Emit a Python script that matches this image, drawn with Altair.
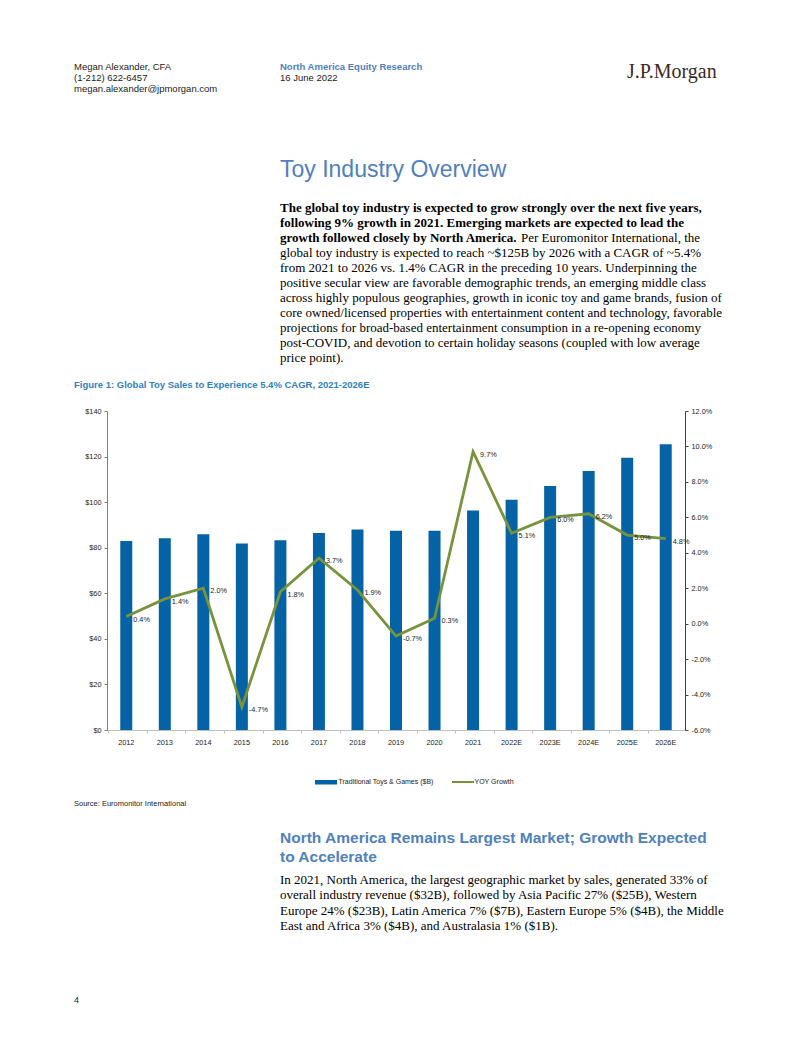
import altair as alt
import pandas as pd

# ---- data ----
years = ["2012", "2013", "2014", "2015", "2016", "2017", "2018", "2019", "2020",
         "2021", "2022E", "2023E", "2024E", "2025E", "2026E"]
sales = [83.0, 84.2, 85.9, 81.8, 83.3, 86.5, 88.0, 87.4, 87.5,
         96.3, 101.1, 107.1, 113.7, 119.5, 125.4]
growth = [0.4, 1.4, 2.0, -4.7, 1.8, 3.7, 1.9, -0.7, 0.3,
          9.7, 5.1, 6.0, 6.2, 5.0, 4.8]

df = pd.DataFrame({"year": years, "sales": sales, "growth": growth})
one = pd.DataFrame({"k": [0]})

BLUE = "#0563a5"
OLIVE = "#77933c"
HEAD = "#4f81bd"
FIGC = "#2f7fc1"
SANS = "Liberation Sans"
SERIF = "Liberation Serif"

# plot-area origin in page pixels
OX, OY = 107, 411
W, H = 578, 319

PCT = "replace(format({v}, '.1f'), '\u2212', '-') + '%'"


def txt(text, X, Y, size, color="#222", weight="normal", font=SANS,
        baseline="middle", lh=None, align="left"):
    mk = dict(text=text, font=font, fontSize=size, color=color,
              fontWeight=weight, align=align, baseline=baseline)
    if lh:
        mk["lineHeight"] = lh
    return alt.Chart(one).mark_text(**mk).encode(
        x=alt.value(X - OX), y=alt.value(Y - OY))


xenc = alt.X("year:N", sort=years, title=None,
             axis=alt.Axis(labelAngle=0, labelFontSize=7.3, labelColor="#222",
                           labelFont=SANS, domainColor="#bfbfbf",
                           tickColor="#bfbfbf", tickSize=3, bandPosition=0,
                           labelPadding=5))

bars = alt.Chart(df).mark_bar(size=12, color=BLUE).encode(
    x=xenc,
    y=alt.Y("sales:Q", title=None,
            scale=alt.Scale(domain=[0, 140], nice=False),
            axis=alt.Axis(orient="left", values=list(range(0, 141, 20)),
                          format="$,.0f", grid=False, labelFontSize=7.3,
                          labelColor="#222", labelFont=SANS,
                          domainColor="#7f7f7f", tickColor="#7f7f7f",
                          tickSize=3, labelPadding=3)),
)

gy = alt.Y("growth:Q", title=None,
           scale=alt.Scale(domain=[-6, 12], nice=False),
           axis=alt.Axis(orient="right", values=list(range(-6, 13, 2)),
                         labelExpr=PCT.format(v="datum.value"),
                         grid=False, labelFontSize=7.3, labelColor="#222",
                         labelFont=SANS, domainColor="#404040",
                         tickColor="#404040", tickSize=3, labelPadding=3))

line = alt.Chart(df).mark_line(color=OLIVE, strokeWidth=2.8).encode(
    x=alt.X("year:N", sort=years), y=gy)

labels = alt.Chart(df).transform_calculate(
    lab=PCT.format(v="datum.growth")
).mark_text(align="left", baseline="middle", dx=7, dy=3, fontSize=7.3,
            font=SANS, color="#222").encode(
    x=alt.X("year:N", sort=years),
    y=alt.Y("growth:Q", scale=alt.Scale(domain=[-6, 12], nice=False),
            axis=None),
    text="lab:N")

# legend drawn by hand
leg_rect = alt.Chart(one).mark_rect(color=BLUE).encode(
    x=alt.value(315 - OX), x2=alt.value(337 - OX),
    y=alt.value(780 - OY), y2=alt.value(784.5 - OY))
leg_line = alt.Chart(one).mark_rule(color=OLIVE, strokeWidth=2).encode(
    x=alt.value(452 - OX), x2=alt.value(474 - OX), y=alt.value(782 - OY))
leg_t1 = txt("Traditional Toys & Games ($B)", 338.5, 782, 7)
leg_t2 = txt("YOY Growth", 474.5, 782, 7)

# page text
para1_bold = ["The global toy industry is expected to grow strongly over the next five years,",
              "following 9% growth in 2021. Emerging markets are expected to lead the",
              "growth followed closely by North America."]
para1_rest = ["global toy industry is expected to reach ~$125B by 2026 with a CAGR of ~5.4%",
              "from 2021 to 2026 vs. 1.4% CAGR in the preceding 10 years. Underpinning the",
              "positive secular view are favorable demographic trends, an emerging middle class",
              "across highly populous geographies, growth in iconic toy and game brands, fusion of",
              "core owned/licensed properties with entertainment content and technology, favorable",
              "projections for broad-based entertainment consumption in a re-opening economy",
              "post-COVID, and devotion to certain holiday seasons (coupled with low average",
              "price point)."]
para2 = ["In 2021, North America, the largest geographic market by sales, generated 33% of",
         "overall industry revenue ($32B), followed by Asia Pacific 27% ($25B), Western",
         "Europe 24% ($23B), Latin America 7% ($7B), Eastern Europe 5% ($4B), the Middle",
         "East and Africa 3% ($4B), and Australasia 1% ($1B)."]

page = [
    txt("Megan Alexander, CFA", 74, 67, 9.5),
    txt("(1-212) 622-6457", 74, 78, 9.5),
    txt("megan.alexander@jpmorgan.com", 74, 89, 9.5),
    txt("North America Equity Research", 280, 67, 9.5, color=HEAD, weight="bold"),
    txt("16 June 2022", 280, 78, 9.5),
    txt("J.P.Morgan", 627, 72, 20, color="#3b2b24", font=SERIF),
    txt("Toy Industry Overview", 280, 170, 23, color=HEAD),
    txt(para1_bold, 280, 212, 13, color="#000", weight="bold", font=SERIF,
        baseline="alphabetic", lh=15),
    txt("Per Euromonitor International, the", 521, 242, 13, color="#000",
        font=SERIF, baseline="alphabetic"),
    txt(para1_rest, 280, 257, 13, color="#000", font=SERIF,
        baseline="alphabetic", lh=15),
    txt("Figure 1: Global Toy Sales to Experience 5.4% CAGR, 2021-2026E", 74, 385,
        9.5, color=FIGC, weight="bold"),
    txt("Source: Euromonitor International", 74, 804, 7.5),
    txt(["North America Remains Largest Market; Growth Expected", "to Accelerate"],
        280, 842.5, 15.5, color=HEAD, weight="bold", baseline="alphabetic", lh=19),
    txt(para2, 280, 884, 13, color="#000", font=SERIF, baseline="alphabetic",
        lh=15.3),
    txt("4", 74, 1000, 9),
]

chart = alt.layer(
    bars, line, labels, leg_rect, leg_line, leg_t1, leg_t2, *page
).resolve_scale(y="independent").properties(
    width=W, height=H,
    autosize=alt.AutoSizeParams(type="none"),
    padding={"left": OX - 8, "top": OY - 8, "right": 100, "bottom": 290},
    background="white",
).configure_view(stroke=None)

chart.save("out.html", embed_options={"renderer": "svg", "actions": False})
